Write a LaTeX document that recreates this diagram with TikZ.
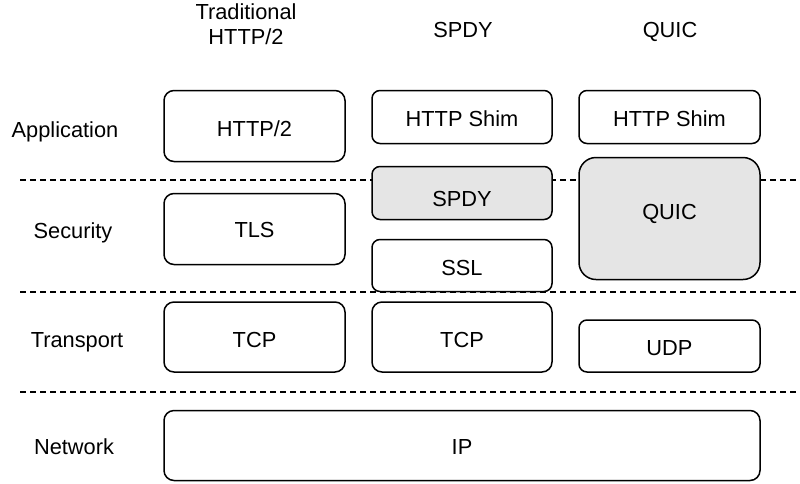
\documentclass[tikz,border=0pt]{standalone}
\usepackage{fontspec}
\setmainfont{Liberation Sans}
\begin{document}
\begin{tikzpicture}[x=1pt,y=-1pt,
  layer/.style={draw=black,line width=1.5pt,fill=white,font=\fontsize{21.8}{26}\selectfont,inner sep=0pt,align=center,text depth=0pt},
  graybox/.style={layer,fill=black!10},
  cap/.style={text height=#1},
  lbl/.style={font=\fontsize{21.8}{26}\selectfont,inner sep=0pt,text height=15.6pt,text depth=0pt},
  sep/.style={draw=black,line width=1.3pt,dash pattern=on 5.5pt off 4.5pt}]
\useasboundingbox (0,0) rectangle (800,483);
% separators
\coordinate (s1a) at (20,180); \coordinate (s1b) at (800,180);
\coordinate (s2a) at (20,292); \coordinate (s2b) at (800,292);
\coordinate (s3a) at (20,392); \coordinate (s3b) at (800,392);
\draw[sep] (s1a) -- (s1b);
\draw[sep] (s2a) -- (s2b);
\draw[sep] (s3a) -- (s3b);
% headers
\node[lbl] (h1a) at (246,11.5) {Traditional};
\node[lbl] (h1b) at (246,36.5) {HTTP/2};
\node[lbl] (h2) at (463,30) {SPDY};
\node[lbl] (h3) at (670,30) {QUIC};
% row labels
\node[lbl] (rapp) at (65,129.5) {Application};
\node[lbl] (rsec) at (73,230.5) {Security};
\node[lbl] (rtra) at (77,339.5) {Transport};
\node[lbl] (rnet) at (74,447) {Network};
% column 1
\node[layer,cap=20.6pt,rounded corners=10pt,minimum width=181pt,minimum height=71pt] (http2) at (254.5,126) {HTTP/2};
\node[layer,cap=17.6pt,rounded corners=10pt,minimum width=181pt,minimum height=71pt] (tls) at (254.5,229) {TLS};
\node[layer,cap=20.6pt,rounded corners=10pt,minimum width=181pt,minimum height=70pt] (tcp1) at (254.5,337) {TCP};
% column 2
\node[layer,cap=19.6pt,rounded corners=8pt,minimum width=180pt,minimum height=53pt] (shim2) at (462,117) {HTTP Shim};
\node[graybox,cap=26.6pt,rounded corners=8pt,minimum width=180pt,minimum height=53pt] (spdy) at (462,193) {SPDY};
\node[layer,cap=20.6pt,rounded corners=8pt,minimum width=180pt,minimum height=52pt] (ssl) at (462,265.5) {SSL};
\node[layer,cap=20.6pt,rounded corners=10pt,minimum width=180pt,minimum height=70pt] (tcp2) at (462,337) {TCP};
% column 3
\node[layer,cap=19.6pt,rounded corners=8pt,minimum width=181pt,minimum height=53pt] (shim3) at (669.5,117) {HTTP Shim};
\node[graybox,cap=1.6pt,rounded corners=17pt,minimum width=181pt,minimum height=122pt] (quic) at (669.5,218.5) {QUIC};
\node[layer,cap=19.6pt,rounded corners=8pt,minimum width=181pt,minimum height=52pt] (udp) at (669.5,346) {UDP};
% network
\node[layer,cap=17.6pt,rounded corners=10pt,minimum width=596pt,minimum height=70pt] (ip) at (462,445.5) {IP};
\end{tikzpicture}
\end{document}
